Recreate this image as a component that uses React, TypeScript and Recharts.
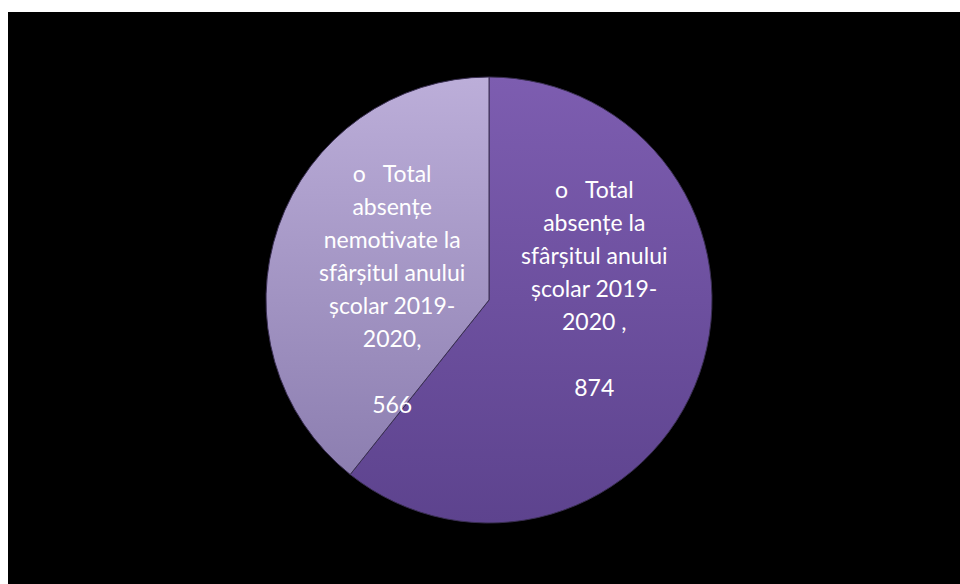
import { PieChart, Pie, Cell } from "recharts"

const names = [
  "o   Total absențe la sfârșitul anului școlar 2019-2020 ,",
  "o   Total absențe nemotivate la sfârșitul anului școlar 2019-2020,",
]
const values = [874, 566]
const labelLines = [
  ["o\u00a0\u00a0\u00a0Total", "absențe la", "sfârșitul anului", "școlar 2019-", "2020 ,", "", "874"],
  ["o\u00a0\u00a0\u00a0Total", "absențe", "nemotivate la", "sfârșitul anului", "școlar 2019-", "2020,", "", "566"],
]

const data = names.map((name, i) => ({ name, value: values[i] }))
const gradients = [
  ["#7d5db0", "#5d438e"],
  ["#bcaed9", "#8c7eb0"],
]
const labelRadius = [0.5, 0.46]

const RADIAN = Math.PI / 180
const lineHeight = 33

const renderLabel = (props: any) => {
  const { cx, cy, midAngle, outerRadius, index } = props
  const lines = labelLines[index]
  const x = cx + outerRadius * labelRadius[index] * Math.cos(-midAngle * RADIAN)
  const midY = cy - 12
  const firstY = midY - ((lines.length - 1) * lineHeight) / 2
  return (
    <text
      x={x}
      y={firstY}
      fill="#ffffff"
      textAnchor="middle"
      dominantBaseline="central"
      style={{ fontFamily: "Lato, 'Open Sans', sans-serif", fontSize: 23 }}
    >
      {lines.map((l, i) => (
        <tspan key={i} x={x} y={firstY + i * lineHeight}>
          {l}
        </tspan>
      ))}
    </text>
  )
}

export default function App() {
  return (
    <>
      <style>{"html, body { overflow: hidden; }"}</style>
      <div
        style={{
          position: "fixed",
          left: 8,
          top: 12,
          right: 0,
          bottom: 0,
          background: "#000000",
          overflow: "hidden",
        }}
      >
        <PieChart width={952} height={572}>
          <defs>
            {gradients.map((g, i) => (
              <linearGradient key={i} id={`slice${i}`} x1="0" y1="0" x2="0" y2="1">
                <stop offset="0%" stopColor={g[0]} />
                <stop offset="100%" stopColor={g[1]} />
              </linearGradient>
            ))}
          </defs>
          <Pie
            data={data}
            dataKey="value"
            nameKey="name"
            cx={476}
            cy={283}
            outerRadius={223}
            startAngle={90}
            endAngle={-270}
            stroke="#3a2f52"
            strokeWidth={1}
            label={renderLabel}
            labelLine={false}
            isAnimationActive={false}
          >
            {data.map((d, i) => (
              <Cell key={d.name} fill={`url(#slice${i})`} />
            ))}
          </Pie>
        </PieChart>
      </div>
    </>
  )
}
